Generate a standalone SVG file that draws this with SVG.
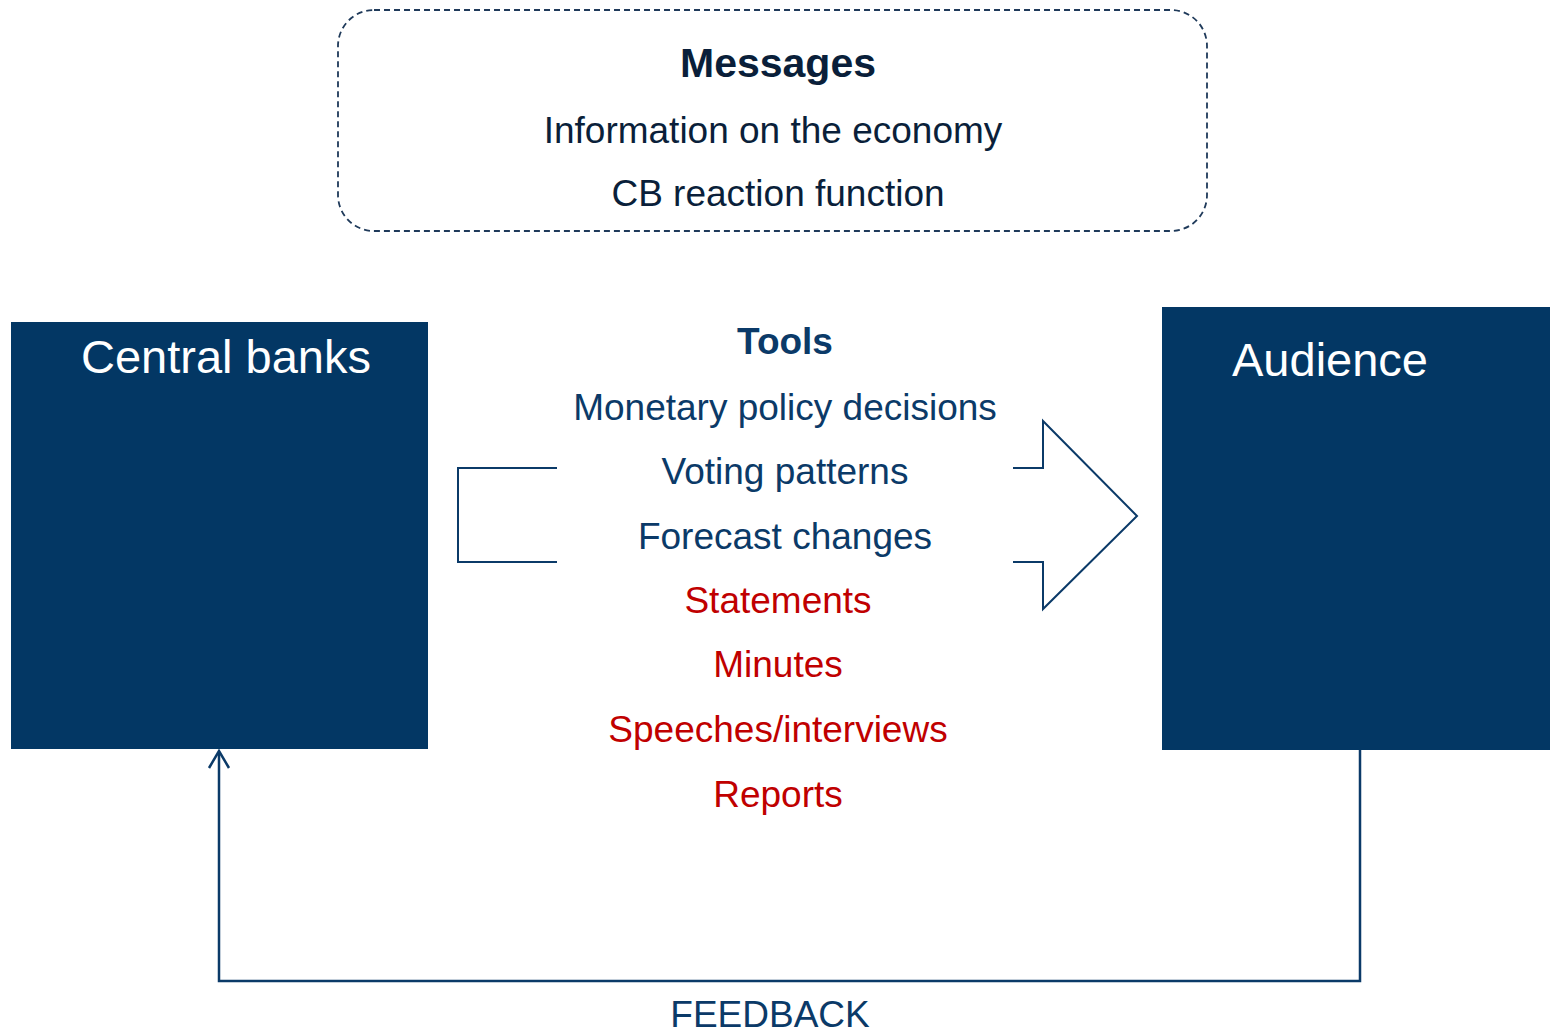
<svg xmlns="http://www.w3.org/2000/svg" width="1550" height="1031" viewBox="0 0 1550 1031">
<style>
text{font-family:"Liberation Sans",Arial,sans-serif;text-anchor:middle}
.t{font-size:37px;fill:#0b3a68}
.r{font-size:37px;fill:#c00000}
.dk{font-size:37px;fill:#0a1f3a}
.box{fill:#033764}
.w{font-size:47px;fill:#ffffff}
.ln{fill:none;stroke:#0b3a68;stroke-width:2}
.fb{fill:none;stroke:#0b3a68;stroke-width:2.5}
</style>
<g id="messages">
<rect x="338" y="10" width="869" height="221" rx="36" fill="none" stroke="#1f3a5a" stroke-width="1.8" stroke-dasharray="6,4"/>
<text x="778" y="77" class="dk" style="font-size:41px;font-weight:bold">Messages</text>
<text x="773" y="143" class="dk">Information on the economy</text>
<text x="778" y="206" class="dk">CB reaction function</text>
</g>
<g id="central-banks">
<rect class="box" x="11" y="322" width="417" height="427"/>
<text x="226" y="373" class="w">Central banks</text>
</g>
<g id="audience">
<rect class="box" x="1162" y="307" width="388" height="443"/>
<text x="1330" y="376" class="w">Audience</text>
</g>
<g id="tools">
<polyline class="ln" points="557,468 458,468 458,562 557,562"/>
<polyline class="ln" points="1013,562 1043,562 1043,609 1137,516 1043,421 1043,468 1013,468"/>
<text x="785" y="354" class="t" style="font-weight:bold">Tools</text>
<text x="785" y="420" class="t">Monetary policy decisions</text>
<text x="785" y="484" class="t">Voting patterns</text>
<text x="785" y="549" class="t">Forecast changes</text>
<text x="778" y="613" class="r">Statements</text>
<text x="778" y="677" class="r">Minutes</text>
<text x="778" y="742" class="r">Speeches/interviews</text>
<text x="778" y="807" class="r">Reports</text>
</g>
<g id="connectors">
<polyline class="fb" points="1360,750 1360,981 219,981 219,752"/>
<path class="fb" d="M209,768 L219,751 L229,768"/>
<text x="770" y="1027" class="t">FEEDBACK</text>
</g>
</svg>
